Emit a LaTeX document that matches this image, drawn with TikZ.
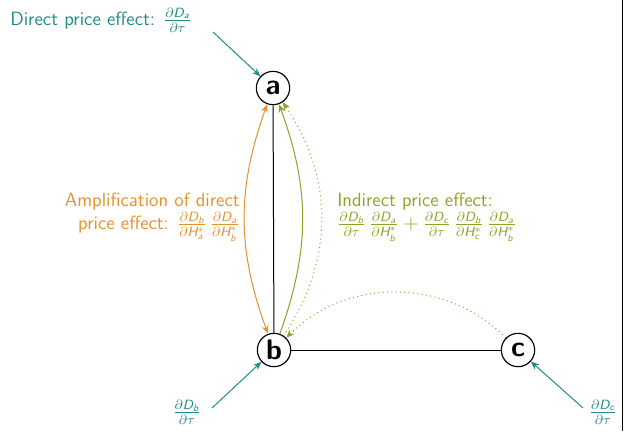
\documentclass[tikz,border=0pt]{standalone}
\usetikzlibrary{arrows.meta,calc}
\DeclareMathAlphabet{\mathsfit}{TU}{lmss}{m}{sl}
\definecolor{DirectClr}{RGB}{30,140,130}
\definecolor{AmplClr}{RGB}{228,145,45}
\definecolor{IndirClr}{RGB}{145,160,40}
\newcommand\pd[2]{\frac{\partial\mathsfit{#1}}{\partial #2}}

\begin{document}
\begin{tikzpicture}[x=0.6pt,y=-0.6pt,>={Stealth[length=5pt,width=4pt]},
  firm/.style={circle,draw,line width=0.7pt,minimum size=20pt,inner sep=0pt,font=\sffamily\fontsize{17}{20}\selectfont\bfseries},
  lbl/.style={inner sep=0pt,font=\sffamily\fontsize{11.5}{14}\selectfont},
  link/.style={line width=0.6pt}]
\useasboundingbox (0,0) rectangle (625,431);

% firms
\node[firm] (a) at (273,88) {a};
\node[firm] (b) at (274,350) {b};
\node[firm] (c) at (518,350) {c};

\draw[link] (a) -- (b);
\draw[link] (b) -- (c);

% amplification and indirect effects
\draw[link,AmplClr,<->] (b) to[bend left=20] (a);
\draw[link,IndirClr,->] (b) to[bend right=20] (a);
\draw[link,IndirClr,dotted,->] (b) to[bend right=34] (a);
\draw[link,IndirClr,dotted,->] (c) to[bend right=45] (b);

% labels
\node[lbl,DirectClr,anchor=west] (dla) at (10,20) {Direct price effect: $\pd{D_a}{\tau}$};
\node[lbl,AmplClr,align=right,anchor=east] (amp) at (240,217)
  {Amplification of direct\\[0pt] price effect: $\pd{D_b}{\mathsfit{H_a^*}}\,\pd{D_a}{\mathsfit{H_b^*}}$};
\node[lbl,IndirClr,align=left,anchor=west] (ind) at (337,217)
  {Indirect price effect:\\[0pt] $\pd{D_b}{\tau}\,\pd{D_a}{\mathsfit{H_b^*}}+\pd{D_c}{\tau}\,\pd{D_b}{\mathsfit{H_c^*}}\,\pd{D_a}{\mathsfit{H_b^*}}$};
\node[lbl,DirectClr] (dlb) at (187,412) {$\pd{D_b}{\tau}$};
\node[lbl,DirectClr] (dlc) at (603,412) {$\pd{D_c}{\tau}$};

% direct effects
\coordinate (sa) at (213,32);
\coordinate (sb) at (212,408);
\coordinate (sc) at (583,408);
\draw[link,DirectClr,->] (sa) -- (a);
\draw[link,DirectClr,->] (sb) -- (b);
\draw[link,DirectClr,->] (sc) -- (c);

% frame edge
\draw[line width=0.6pt] (622,0) -- (622,431);
\end{tikzpicture}
\end{document}
